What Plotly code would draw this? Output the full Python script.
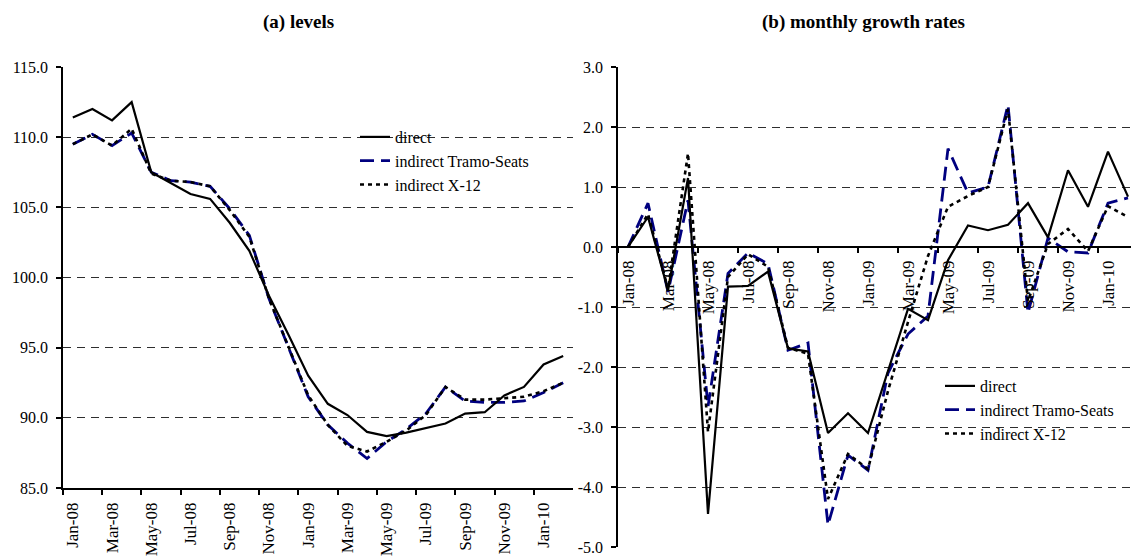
import plotly.graph_objects as go

# Monthly categories, Jan-08 .. Feb-10
months = ["Jan-08", "Feb-08", "Mar-08", "Apr-08", "May-08", "Jun-08", "Jul-08", "Aug-08",
          "Sep-08", "Oct-08", "Nov-08", "Dec-08", "Jan-09", "Feb-09", "Mar-09", "Apr-09",
          "May-09", "Jun-09", "Jul-09", "Aug-09", "Sep-09", "Oct-09", "Nov-09", "Dec-09",
          "Jan-10", "Feb-10"]

# (a) levels
level_direct = [111.4, 112.0, 111.2, 112.5, 107.5, 106.7, 105.95, 105.6, 103.9, 101.9, 98.7, 95.9,
                93.0, 91.0, 90.2, 89.0, 88.7, 88.95, 89.3, 89.6, 90.3, 90.4, 91.6, 92.2, 93.8, 94.4]
level_tramo = [109.5, 110.2, 109.4, 110.3, 107.5, 106.9, 106.8, 106.5, 104.9, 103.0, 98.5, 95.0,
               91.5, 89.5, 88.2, 87.1, 88.3, 89.2, 90.3, 92.2, 91.2, 91.1, 91.1, 91.2, 91.8, 92.5]
level_x12 = [109.5, 110.2, 109.4, 110.6, 107.4, 106.9, 106.8, 106.5, 104.8, 102.9, 98.5, 95.1,
             91.6, 89.5, 88.0, 87.6, 88.3, 89.1, 90.2, 92.2, 91.3, 91.3, 91.4, 91.5, 91.9, 92.5]

# (b) monthly growth rates
growth_direct = [0.0, 0.5, -0.72, 1.15, -4.45, -0.66, -0.65, -0.41, -1.69, -1.74, -3.1, -2.77,
                 -3.1, -2.05, -1.03, -1.22, -0.22, 0.36, 0.28, 0.37, 0.73, 0.16, 1.28, 0.67, 1.59, 0.84]
growth_tramo = [0.0, 0.73, -0.75, 0.78, -2.66, -0.44, -0.1, -0.28, -1.72, -1.6, -4.63, -3.47,
                -3.72, -2.1, -1.45, -1.15, 1.64, 0.9, 1.0, 2.37, -1.1, 0.15, -0.08, -0.1, 0.73, 0.82]
growth_x12 = [0.0, 0.55, -0.7, 1.56, -3.08, -0.5, -0.12, -0.33, -1.68, -1.78, -4.2, -3.45,
              -3.7, -2.4, -1.25, -0.15, 0.67, 0.85, 1.0, 2.3, -0.9, 0.05, 0.3, -0.07, 0.68, 0.5]

level_ticks = [85.0, 90.0, 95.0, 100.0, 105.0, 110.0, 115.0]
growth_ticks = [-5.0, -4.0, -3.0, -2.0, -1.0, 0.0, 1.0, 2.0, 3.0]

series_names = ["direct", "indirect Tramo-Seats", "indirect X-12"]

FONT = "Liberation Serif"
NAVY = "#00007f"
W, H = 1131, 556

x = list(range(len(months)))
label_idx = x[::2]
label_txt = months[::2]
boundaries = [i - 0.5 for i in label_idx]


def px_x(p):
    return p / W


def px_y(p):
    return 1 - p / H


fig = go.Figure()

styles = [
    dict(color=NAVY, width=2.8, dash="14px,7px"),
    dict(color="black", width=2.6, dash="4px,4px"),
    dict(color="black", width=2.2),
]
ranks = [2, 3, 1]
panels = [
    ("x", "y", "legend", [level_tramo, level_x12, level_direct]),
    ("x2", "y2", "legend2", [growth_tramo, growth_x12, growth_direct]),
]
order = [1, 2, 0]  # names for tramo, x12, direct
for xa, ya, lg, data in panels:
    for k, vals in enumerate(data):
        fig.add_trace(go.Scatter(
            x=x, y=vals, mode="lines", name=series_names[order[k]],
            line=styles[k], xaxis=xa, yaxis=ya, legend=lg, legendrank=ranks[k],
        ))

grid = dict(showgrid=True, gridcolor="#2e2e2e", gridwidth=1.3, griddash="8px,6px")
ytickfont = dict(family=FONT, size=16, color="black")
xtickfont = dict(family=FONT, size=17, color="black")

xcommon = dict(
    tickmode="array", tickvals=label_idx, ticktext=label_txt, tickangle=-90,
    ticks="", showgrid=False, zeroline=False, showline=True, linecolor="black", linewidth=1.5,
    tickfont=xtickfont, automargin=False, ticklabelstandoff=6,
    minor=dict(tickmode="array", tickvals=boundaries, ticks="outside", ticklen=5,
               tickcolor="black", tickwidth=1.5, showgrid=False),
)
ycommon = dict(
    ticks="outside", ticklen=5, tickcolor="black", tickwidth=1.5,
    showline=True, linecolor="black", linewidth=1.5, zeroline=False,
    tickfont=ytickfont, automargin=False, ticklabelstandoff=5, **grid,
)

y_lo1, y_hi1 = px_y(488), px_y(67)
y_lo2, y_hi2 = px_y(547), px_y(67)
zero_pos = y_lo2 + (0 - growth_ticks[0]) / (growth_ticks[-1] - growth_ticks[0]) * (y_hi2 - y_lo2)

fig.update_layout(
    width=W, height=H,
    margin=dict(l=0, r=0, t=0, b=0),
    paper_bgcolor="white", plot_bgcolor="white",
    font=dict(family=FONT, size=16, color="black"),
    xaxis=dict(domain=[px_x(63), px_x(573)], range=[-0.5, len(months) - 0.5], anchor="y", **xcommon),
    yaxis=dict(domain=[y_lo1, y_hi1], range=[level_ticks[0], level_ticks[-1]], anchor="x",
               tickmode="array", tickvals=level_ticks, ticktext=[f"{v:.1f}" for v in level_ticks],
               **ycommon),
    xaxis2=dict(domain=[px_x(618), 1.0], range=[-0.5, -0.5 + (W - 618) / 20], anchor="free",
                position=zero_pos, **xcommon),
    yaxis2=dict(domain=[y_lo2, y_hi2], range=[growth_ticks[0], growth_ticks[-1]], anchor="x2",
                tickmode="array", tickvals=growth_ticks, ticktext=[f"{v:.1f}" for v in growth_ticks],
                **ycommon),
    legend=dict(x=px_x(355), y=px_y(120), xanchor="left", yanchor="top",
                bgcolor="rgba(0,0,0,0)", font=dict(family=FONT, size=16, color="black")),
    legend2=dict(x=px_x(940), y=px_y(369), xanchor="left", yanchor="top",
                 bgcolor="rgba(0,0,0,0)", font=dict(family=FONT, size=16, color="black")),
    shapes=[
        dict(type="rect", xref="paper", yref="paper", x0=px_x(313), x1=px_x(573),
             y0=px_y(200), y1=px_y(115), fillcolor="white", line=dict(width=0), layer="between"),
        dict(type="rect", xref="paper", yref="paper", x0=px_x(895), x1=1.0,
             y0=px_y(458), y1=px_y(360), fillcolor="white", line=dict(width=0), layer="between"),
    ],
    annotations=[
        dict(text="<b>(a) levels</b>", x=px_x(298), y=px_y(22), xref="paper", yref="paper",
             xanchor="center", yanchor="middle", showarrow=False,
             font=dict(family=FONT, size=19, color="black")),
        dict(text="<b>(b) monthly growth rates</b>", x=px_x(864), y=px_y(22), xref="paper",
             yref="paper", xanchor="center", yanchor="middle", showarrow=False,
             font=dict(family=FONT, size=19, color="black")),
    ],
)

fig.write_html("out.html")
